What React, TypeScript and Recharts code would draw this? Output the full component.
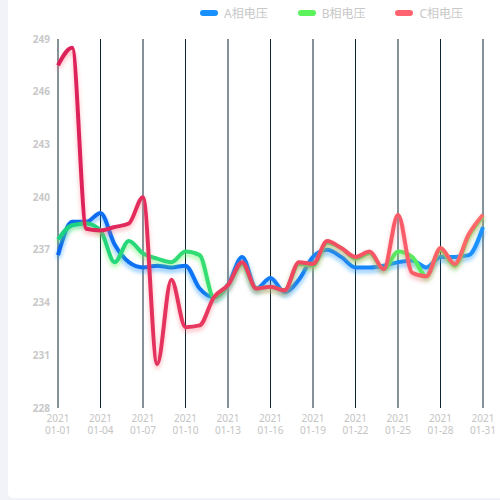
import { LineChart, Line, XAxis, YAxis, CartesianGrid } from 'recharts'

const dates = [
  '01-01', '01-02', '01-03', '01-04', '01-05', '01-06', '01-07', '01-08', '01-09', '01-10',
  '01-11', '01-12', '01-13', '01-14', '01-15', '01-16', '01-17', '01-18', '01-19', '01-20',
  '01-21', '01-22', '01-23', '01-24', '01-25', '01-26', '01-27', '01-28', '01-29', '01-30', '01-31'
]
const shownDates = ['01-01', '01-04', '01-07', '01-10', '01-13', '01-16', '01-19', '01-22', '01-25', '01-28', '01-31']
const yTicks = [228, 231, 234, 237, 240, 243, 246, 249]

const phaseA = [
  236.7, 238.6, 238.6, 239.1, 237.3, 236.3, 236.0, 236.1, 236.0, 236.1,
  234.8, 234.3, 235.0, 236.6, 234.8, 235.4, 234.6, 235.3, 236.6, 237.0,
  236.6, 236.0, 236.0, 236.1, 236.3, 236.4, 236.0, 236.6, 236.6, 236.7, 238.3
]
const phaseB = [
  237.6, 238.4, 238.5, 238.1, 236.3, 237.5, 236.8, 236.5, 236.3, 236.9,
  236.7, 234.3, 235.0, 236.2, 234.8, 234.9, 234.7, 236.2, 236.1, 237.4,
  237.1, 236.5, 236.8, 235.9, 236.9, 236.6, 235.5, 237.0, 236.1, 237.8, 238.9
]
const phaseC = [
  247.5, 248.5, 238.2, 238.1, 238.3, 238.5, 240.0, 230.5, 235.3, 232.6,
  232.7, 234.3, 235.0, 236.3, 234.8, 234.9, 234.7, 236.3, 236.2, 237.5,
  237.1, 236.6, 236.9, 235.9, 239.0, 235.7, 235.5, 237.1, 236.2, 237.9, 239.0
]

const chartData = dates.map((d, i) => ({
  date: d,
  a: phaseA[i],
  b: phaseB[i],
  c: phaseC[i]
}))

const legendItems = [
  { name: 'A相电压', color: '#1890ff' },
  { name: 'B相电压', color: '#5cf25c' },
  { name: 'C相电压', color: '#ff6470' }
]

const FONT = '"Noto Sans", "Noto Sans CJK SC", sans-serif'

function DateTick(props: any) {
  const { x, y, payload } = props
  return (
    <g transform={`translate(${x},${y})`}>
      <text x={0} y={6} textAnchor="middle" fill="#c4c4c4" fontSize={10} fontFamily={FONT}>2021</text>
      <text x={0} y={18} textAnchor="middle" fill="#c4c4c4" fontSize={10} fontFamily={FONT}>{payload.value}</text>
    </g>
  )
}

export default function App() {
  return (
    <div style={{ position: 'fixed', left: 0, top: 0, width: 500, height: 500, background: '#f2f3f8' }}>
      <div style={{ position: 'absolute', left: 8, top: 0, width: 492, height: 498, background: '#fff', borderBottomLeftRadius: 5 }} />
      <div style={{ position: 'absolute', left: 200, top: 4, display: 'flex', alignItems: 'center', fontFamily: FONT, fontSize: 12, color: '#c8c8c8' }}>
        {legendItems.map(item => (
          <div key={item.name} style={{ display: 'flex', alignItems: 'center', marginRight: 30 }}>
            <span style={{ width: 18, height: 6, borderRadius: 3, background: item.color, marginRight: 6 }} />
            <span>{item.name}</span>
          </div>
        ))}
      </div>
      <div style={{ position: 'absolute', left: 0, top: 0 }}>
        <LineChart width={500} height={500} data={chartData} margin={{ top: 39, right: 17, bottom: 62, left: 0 }}>
          <defs>
            <linearGradient id="gradA" x1="0" y1="0" x2="1" y2="0">
              <stop offset="0%" stopColor="#0a68f0" />
              <stop offset="100%" stopColor="#1a92ff" />
            </linearGradient>
            <linearGradient id="gradB" x1="0" y1="0" x2="1" y2="0">
              <stop offset="0%" stopColor="#1cd282" />
              <stop offset="100%" stopColor="#62f258" />
            </linearGradient>
            <linearGradient id="gradC" x1="0" y1="0" x2="1" y2="0">
              <stop offset="0%" stopColor="#dc1f5a" />
              <stop offset="100%" stopColor="#ff6a6a" />
            </linearGradient>
            <filter id="glowA" x="-10%" y="-20%" width="120%" height="140%">
              <feDropShadow dx="0" dy="3" stdDeviation="2" floodColor="#1890ff" floodOpacity="0.55" />
            </filter>
            <filter id="glowB" x="-10%" y="-20%" width="120%" height="140%">
              <feDropShadow dx="0" dy="3" stdDeviation="2" floodColor="#5cf25c" floodOpacity="0.55" />
            </filter>
            <filter id="glowC" x="-10%" y="-20%" width="120%" height="140%">
              <feDropShadow dx="0" dy="3" stdDeviation="2" floodColor="#ff6470" floodOpacity="0.45" />
            </filter>
          </defs>
          <CartesianGrid horizontal={false} vertical stroke="#0b2535" strokeWidth={1} />
          <XAxis
            dataKey="date"
            ticks={shownDates}
            interval={0}
            height={30}
            axisLine={false}
            tickLine={false}
            tick={<DateTick />}
          />
          <YAxis
            width={58}
            domain={[228, 249]}
            ticks={yTicks}
            axisLine={false}
            tickLine={false}
            tick={{ fill: '#c8c8c8', fontSize: 10, fontWeight: 'bold', fontFamily: FONT }}
          />
          <Line type="monotone" dataKey="a" name="A相电压" stroke="url(#gradA)" strokeWidth={4} dot={false} filter="url(#glowA)" isAnimationActive={false} />
          <Line type="monotone" dataKey="b" name="B相电压" stroke="url(#gradB)" strokeWidth={4} dot={false} filter="url(#glowB)" isAnimationActive={false} />
          <Line type="monotone" dataKey="c" name="C相电压" stroke="url(#gradC)" strokeWidth={4} dot={false} filter="url(#glowC)" isAnimationActive={false} />
        </LineChart>
      </div>
    </div>
  )
}
